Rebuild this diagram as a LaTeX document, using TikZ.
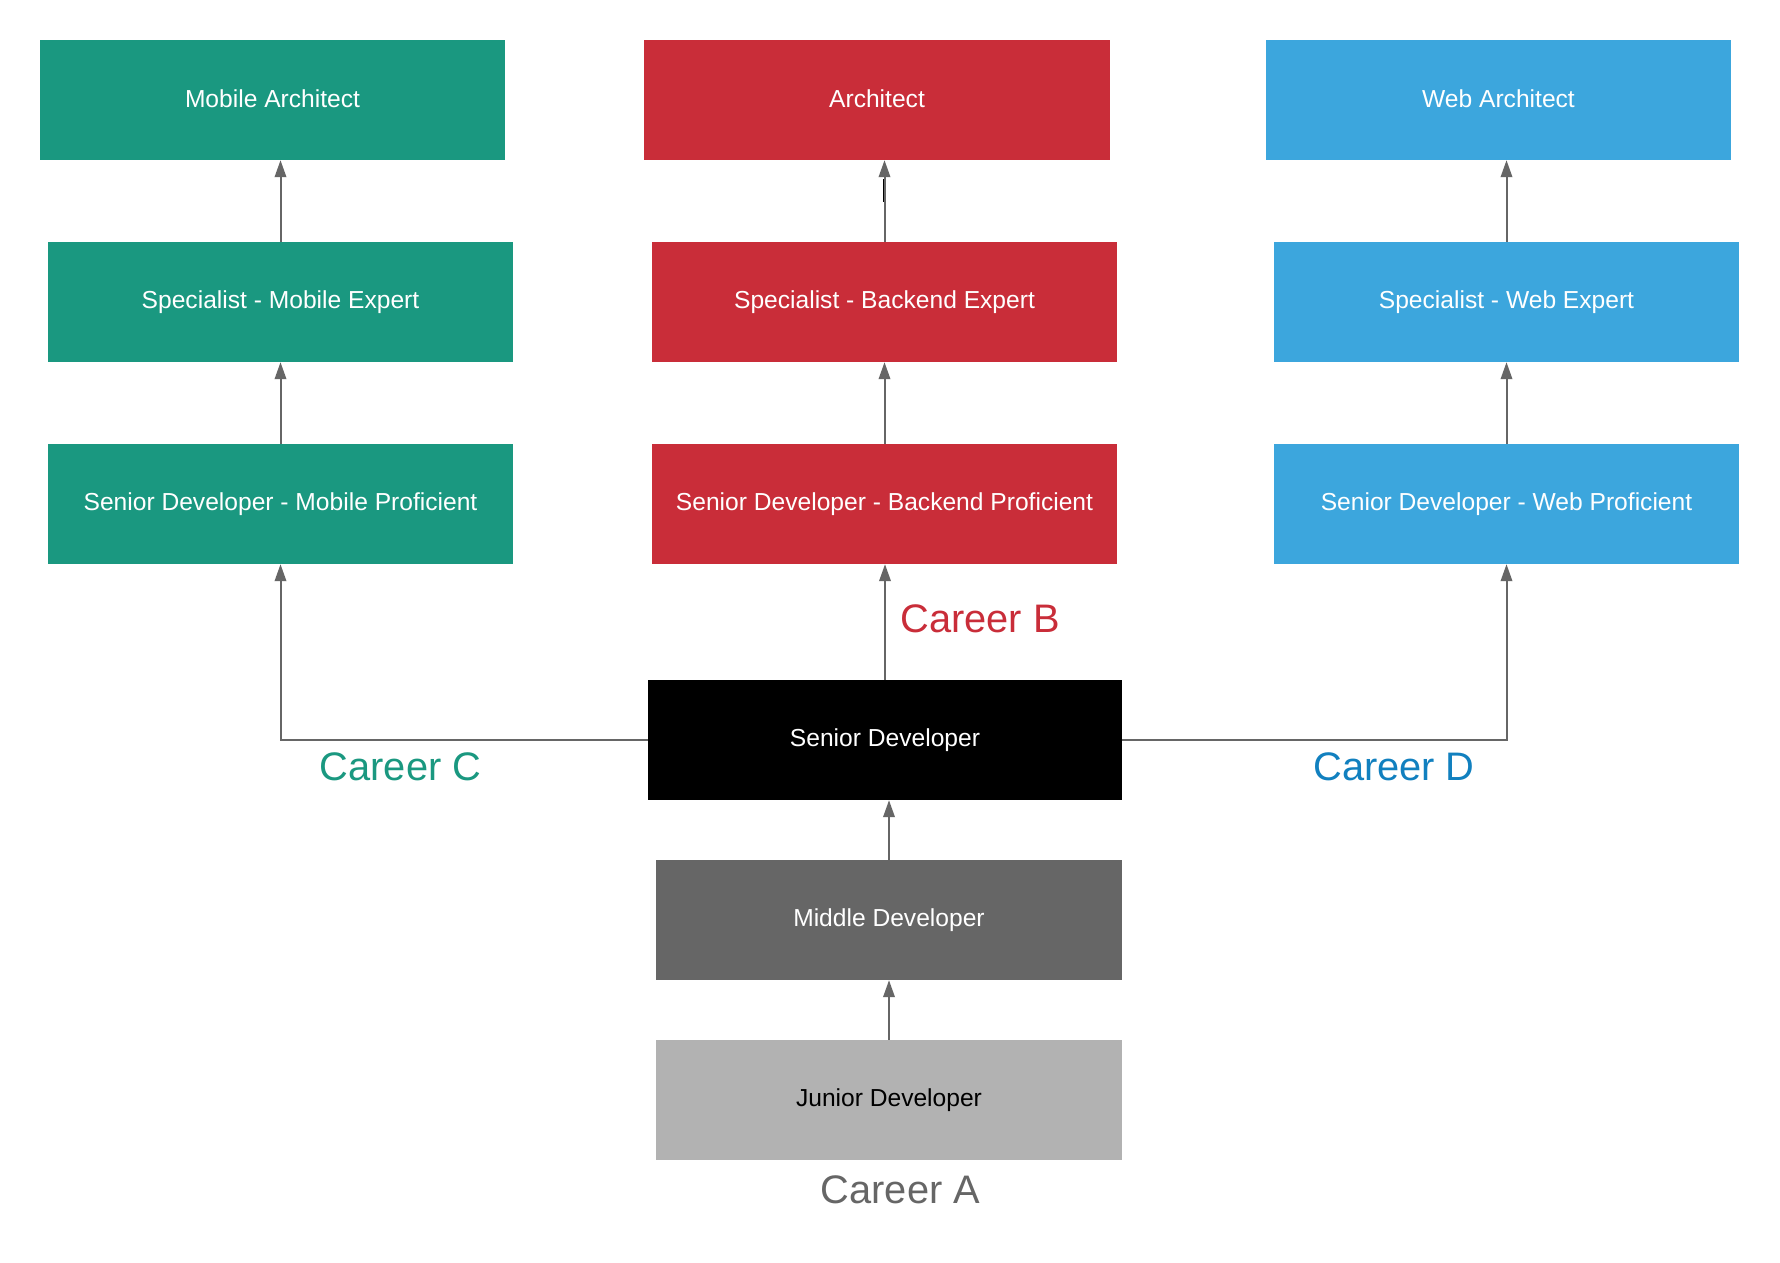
\documentclass[tikz,border=0pt]{standalone}
\usepackage{fontspec}
\setmainfont{Liberation Sans}
\usetikzlibrary{arrows.meta,calc}
\definecolor{cteal}{HTML}{1A9880}
\definecolor{cred}{HTML}{C92D39}
\definecolor{cblue}{HTML}{3CA6DD}
\definecolor{cdblue}{HTML}{1180BF}
\definecolor{cdgrey}{HTML}{666666}
\definecolor{clgrey}{HTML}{B2B2B2}
\definecolor{carrow}{HTML}{666666}
\begin{document}
\begin{tikzpicture}[x=1pt,y=-1pt,
  box/.style={rectangle, inner sep=0pt, minimum width=465pt, minimum height=120pt,
    text=white, font=\fontsize{24.6}{28}\selectfont},
  conn/.style={draw=carrow, line width=2pt, -{Triangle[length=17pt,width=11.5pt]}},
  lbl/.style={inner sep=0pt, font=\fontsize{39.8}{44}\selectfont}]
\useasboundingbox (0,0) rectangle (1780,1263);
\fill[white] (0,0) rectangle (1780,1263);
% column C (mobile)
\node[box, fill=cteal] (ma) at (272.5,100) {\raisebox{2.5pt}{Mobile Architect}};
\node[box, fill=cteal] (ms) at (280.5,302) {Specialist - Mobile Expert};
\node[box, fill=cteal] (mp) at (280.5,504) {Senior Developer - Mobile Proficient};
% column B (backend)
\node[box, fill=cred, minimum width=466pt] (ba) at (877,100) {\raisebox{2.5pt}{Architect}};
\node[box, fill=cred] (bs) at (884.5,302) {Specialist - Backend Expert};
\node[box, fill=cred] (bp) at (884.5,504) {Senior Developer - Backend Proficient};
% column D (web)
\node[box, fill=cblue] (wa) at (1498.5,100) {\raisebox{2.5pt}{Web Architect}};
\node[box, fill=cblue] (ws) at (1506.5,302) {Specialist - Web Expert};
\node[box, fill=cblue] (wp) at (1506.5,504) {Senior Developer - Web Proficient};
% column A
\node[box, fill=black, minimum width=474pt] (sd) at (885,740) {Senior Developer};
\node[box, fill=cdgrey, minimum width=466pt] (md) at (889,920) {Middle Developer};
\node[box, fill=clgrey, minimum width=466pt, text=black] (jd) at (889,1100) {Junior Developer};
% labels
\node[lbl, text=cred] (lb) at (980,619) {Career B};
\node[lbl, text=cteal] (lc) at (400.5,766.5) {Career C};
\node[lbl, text=cdblue] (ld) at (1394,766.5) {Career D};
\node[lbl, text=cdgrey] (la) at (900.5,1189.5) {Career A};
% connectors
\draw[conn] (ms.north) -- (ms.north |- ma.south);
\draw[conn] (mp.north) -- (mp.north |- ms.south);
\draw[conn] (bs.north) -- (bs.north |- ba.south);
\draw[black, line width=1pt] ($(bs.north)+(-1.5,-40)$) -- ($(bs.north)+(-1.5,-63)$);
\draw[conn] (bp.north) -- (bp.north |- bs.south);
\draw[conn] (ws.north) -- (ws.north |- wa.south);
\draw[conn] (wp.north) -- (wp.north |- ws.south);
\draw[conn] (sd.west) -| (mp.south);
\draw[conn] (sd.east) -| (wp.south);
\draw[conn] (sd.north) -- (sd.north |- bp.south);
\draw[conn] (md.north) -- (md.north |- sd.south);
\draw[conn] (jd.north) -- (jd.north |- md.south);
\end{tikzpicture}
\end{document}
